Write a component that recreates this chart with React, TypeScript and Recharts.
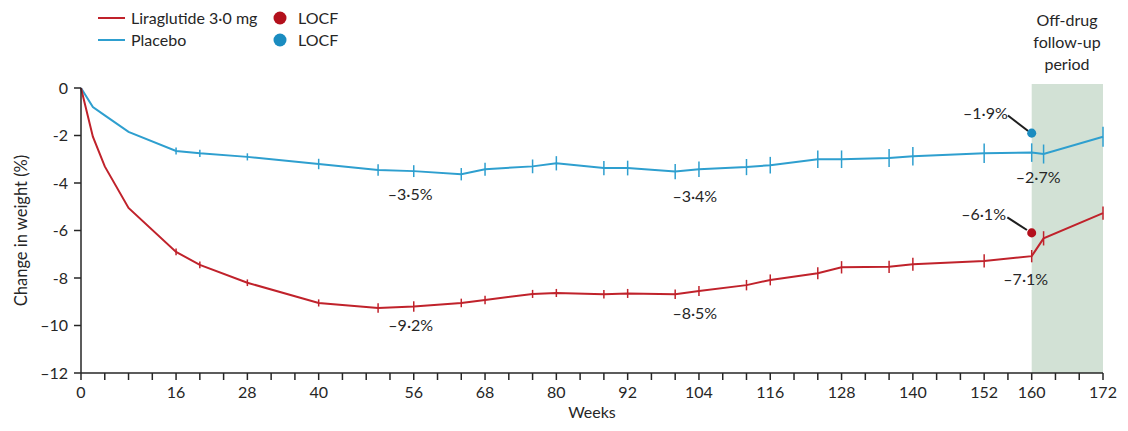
import {
  ComposedChart,
  Line,
  XAxis,
  YAxis,
  ErrorBar,
  ReferenceArea,
  ReferenceDot,
  ReferenceLine,
  Scatter,
} from "recharts";

const weeks = [0, 2, 4, 8, 16, 20, 28, 40, 50, 56, 64, 68, 76, 80, 88, 92, 100, 104, 112, 116, 124, 128, 136, 140, 152, 160, 162, 172];
const liraglutide = [0, -2.05, -3.3, -5.05, -6.9, -7.45, -8.2, -9.05, -9.26, -9.2, -9.05, -8.93, -8.67, -8.63, -8.68, -8.65, -8.68, -8.55, -8.3, -8.08, -7.8, -7.55, -7.53, -7.42, -7.28, -7.08, -6.33, -5.27];
const placebo = [0, -0.8, -1.15, -1.85, -2.65, -2.75, -2.9, -3.2, -3.45, -3.5, -3.63, -3.42, -3.3, -3.17, -3.37, -3.37, -3.52, -3.42, -3.33, -3.25, -3.0, -3.0, -2.95, -2.87, -2.75, -2.72, -2.78, -2.05];
const liraglutideErr = [0, 0, 0, 0, 0.14, 0.14, 0.14, 0.15, 0.2, 0.22, 0.18, 0.18, 0.17, 0.17, 0.18, 0.19, 0.2, 0.21, 0.22, 0.23, 0.25, 0.26, 0.26, 0.27, 0.28, 0.26, 0.3, 0.28];
const placeboErr = [0, 0, 0, 0, 0.15, 0.15, 0.15, 0.22, 0.24, 0.25, 0.26, 0.27, 0.29, 0.3, 0.3, 0.31, 0.32, 0.33, 0.34, 0.35, 0.37, 0.37, 0.38, 0.39, 0.41, 0.39, 0.4, 0.42];

const locfWeek = 160;
const liraglutideLocf = -6.1;
const placeboLocf = -1.9;

const xTicks = [0, 4, 8, 12, 16, 20, 24, 28, 32, 36, 40, 44, 48, 52, 56, 60, 64, 68, 72, 76, 80, 84, 88, 92, 96, 100, 104, 108, 112, 116, 120, 124, 128, 132, 136, 140, 144, 148, 152, 156, 160, 164, 168, 172];
const xLabels = [0, 16, 28, 40, 56, 68, 80, 92, 104, 116, 128, 140, 152, 160, 172];
const yTicks = [0, -2, -4, -6, -8, -10, -12];

const annotations = [
  { week: 55.4, value: -4.46, text: "–3·5%" },
  { week: 103.3, value: -4.55, text: "–3·4%" },
  { week: 55.5, value: -10.0, text: "–9·2%" },
  { week: 103.3, value: -9.5, text: "–8·5%" },
  { week: 152.2, value: -1.07, text: "–1·9%" },
  { week: 161.1, value: -3.78, text: "–2·7%" },
  { week: 151.9, value: -5.3, text: "–6·1%" },
  { week: 159.0, value: -8.04, text: "–7·1%" },
];

const leaders = [
  [{ x: 156.0, y: -1.16 }, { x: 159.4, y: -1.81 }],
  [{ x: 155.9, y: -5.45 }, { x: 159.2, y: -5.98 }],
];

const RED = "#c0222b";
const BLUE = "#2e9fcf";
const RED_DOT = "#b3101c";
const BLUE_DOT = "#1a8cc0";
const INK = "#262626";
const FONT = "Lato, 'Open Sans', sans-serif";

const data = weeks.map((w, i) => ({
  week: w,
  lira: liraglutide[i],
  placebo: placebo[i],
  liraErr: liraglutideErr[i],
  placeboErr: placeboErr[i],
}));

const fmtY = (v: number) => (v === 0 ? "0" : v <= -10 ? `–${-v}` : `-${-v}`);
const fmtX = (v: number) => (xLabels.includes(v) ? String(v) : "");

export default function App() {
  return (
    <div style={{ position: "absolute", left: 0, top: 0, width: 1128, height: 431, background: "#fff", fontFamily: FONT }}>
      <ComposedChart width={1128} height={431} data={data} margin={{ top: 88, right: 25, bottom: 10, left: 0 }}>
        <ReferenceArea x1={160} x2={172} y1={-12} y2={0.17} fill="#d2e1d5" fillOpacity={1} stroke="none" ifOverflow="visible" />
        <XAxis
          dataKey="week"
          type="number"
          domain={[0, 172]}
          ticks={xTicks}
          tickFormatter={fmtX}
          interval={0}
          height={48}
          tickSize={7}
          tickMargin={7}
          axisLine={{ stroke: INK, strokeWidth: 1.5 }}
          tickLine={{ stroke: INK, strokeWidth: 1.5 }}
          tick={{ fill: INK, fontSize: 16, fontFamily: FONT }}
          label={{ value: "Weeks", position: "insideBottom", offset: 3, fill: INK, fontSize: 16, fontFamily: FONT }}
        />
        <YAxis
          type="number"
          domain={[-12, 0]}
          ticks={yTicks}
          tickFormatter={fmtY}
          interval={0}
          width={81}
          tickSize={7}
          tickMargin={6}
          axisLine={{ stroke: INK, strokeWidth: 1.5 }}
          tickLine={{ stroke: INK, strokeWidth: 1.5 }}
          tick={{ fill: INK, fontSize: 16, fontFamily: FONT }}
          label={{
            value: "Change in weight (%)",
            angle: -90,
            position: "insideLeft",
            offset: 21,
            fill: INK,
            fontSize: 16.5,
            fontFamily: FONT,
            style: { textAnchor: "middle" },
          }}
        />
        <Line type="linear" dataKey="placebo" stroke={BLUE} strokeWidth={2} dot={false} activeDot={false} isAnimationActive={false}>
          <ErrorBar dataKey="placeboErr" width={0} stroke={BLUE} strokeWidth={1.5} direction="y" isAnimationActive={false} />
        </Line>
        <Line type="linear" dataKey="lira" stroke={RED} strokeWidth={2} dot={false} activeDot={false} isAnimationActive={false}>
          <ErrorBar dataKey="liraErr" width={0} stroke={RED} strokeWidth={1.5} direction="y" isAnimationActive={false} />
        </Line>
        <Scatter data={[{ week: locfWeek, value: placeboLocf }]} dataKey="value" fill={BLUE_DOT} shape="circle" isAnimationActive={false} />
        <Scatter data={[{ week: locfWeek, value: liraglutideLocf }]} dataKey="value" fill={RED_DOT} shape="circle" isAnimationActive={false} />
        {leaders.map((seg, i) => (
          <ReferenceLine key={i} segment={seg} stroke="#1e1e1e" strokeWidth={2} ifOverflow="visible" />
        ))}
        {annotations.map((a, i) => (
          <ReferenceDot
            key={i}
            x={a.week}
            y={a.value}
            r={0}
            fill="none"
            stroke="none"
            ifOverflow="visible"
            label={{ value: a.text, position: "center", fill: INK, fontSize: 16, fontFamily: FONT }}
          />
        ))}
      </ComposedChart>
      <svg width={360} height={60} style={{ position: "absolute", left: 0, top: 0 }}>
        <line x1={98} x2={125} y1={18} y2={18} stroke={RED} strokeWidth={2} />
        <text x={131} y={23.5} fill={INK} fontSize={16} fontFamily={FONT}>Liraglutide 3·0 mg</text>
        <line x1={98} x2={125} y1={40} y2={40} stroke={BLUE} strokeWidth={2} />
        <text x={131} y={45.5} fill={INK} fontSize={16} fontFamily={FONT}>Placebo</text>
        <circle cx={280} cy={18} r={6.5} fill={RED_DOT} />
        <text x={298} y={23.5} fill={INK} fontSize={16} fontFamily={FONT}>LOCF</text>
        <circle cx={280} cy={40} r={6.5} fill={BLUE_DOT} />
        <text x={298} y={45.5} fill={INK} fontSize={16} fontFamily={FONT}>LOCF</text>
      </svg>
      <div
        style={{
          position: "absolute",
          left: 1031,
          width: 72,
          top: 9,
          textAlign: "center",
          fontSize: 16,
          lineHeight: "22px",
          color: INK,
        }}
      >
        Off-drug
        <br />
        follow-up
        <br />
        period
      </div>
    </div>
  );
}
